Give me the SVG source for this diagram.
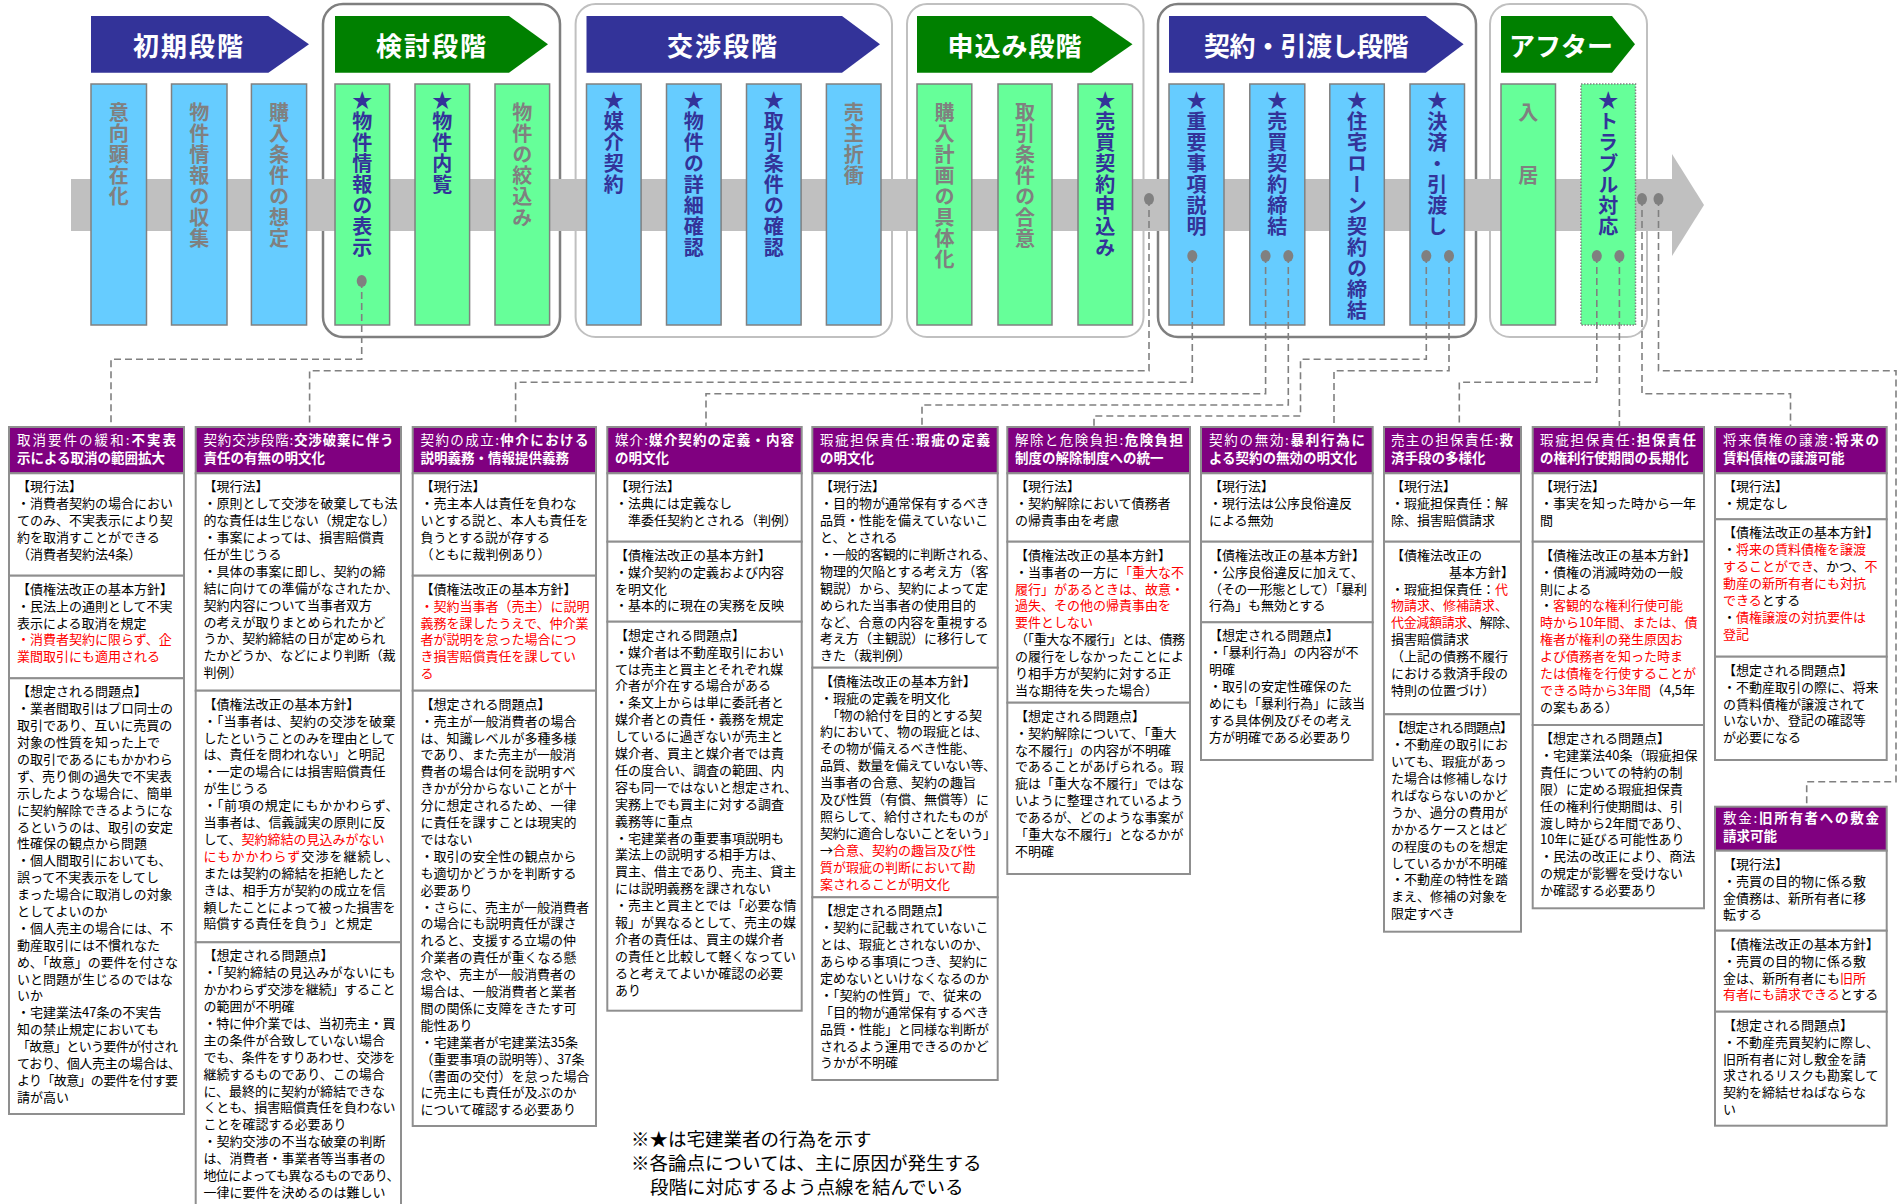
<svg xmlns="http://www.w3.org/2000/svg" width="1898" height="1204" viewBox="0 0 1898 1204">
<style>
.grpL{fill:none;stroke:#C0C0C0;stroke-width:2}
.grpD{fill:none;stroke:#7F7F7F;stroke-width:2.5}
.band{fill:#C0C0C0}
.arB{fill:#333399}
.arG{fill:#008000}
.ht{font-family:"Noto Sans CJK JP","Noto Sans CJK SC",sans-serif;font-size:26px;font-weight:bold;fill:#fff;text-anchor:middle}
.cB{fill:#66CCFF;stroke:#808080;stroke-width:1.5}
.cG{fill:#66FF99;stroke:#808080;stroke-width:1.5}
.cDot{stroke-dasharray:1.5 1.5}
.vt{font-family:"Noto Sans CJK JP","Noto Sans CJK SC",sans-serif;font-size:20px;font-weight:bold;writing-mode:vertical-rl;letter-spacing:1px}
.vg{fill:#808080}
.vs{fill:#333399}
.dot{fill:#808080}
.dash{fill:none;stroke:#808080;stroke-width:1.6;stroke-dasharray:7 4}
.hd{fill:#800080;stroke:#8F8F8F;stroke-width:2}
.sec{fill:#fff;stroke:#8F8F8F;stroke-width:2}
.t{font-family:"Noto Sans CJK JP","Noto Sans CJK SC",sans-serif;font-size:13px;fill:#000}
.hw{font-family:"Noto Sans CJK JP","Noto Sans CJK SC",sans-serif;font-size:13.5px;fill:#fff}
.b{font-weight:bold}
.r{fill:#FF0000}
.note{font-family:"Noto Sans CJK JP","Noto Sans CJK SC",sans-serif;font-size:18.5px;fill:#000}
</style>

<g id="stage-groups">
<rect class="grpD" x="323" y="4" width="237" height="333" rx="20"/>
<rect class="grpL" x="575.6" y="4" width="316.4" height="333" rx="20"/>
<rect class="grpL" x="907" y="4" width="236.5" height="333" rx="20"/>
<rect class="grpD" x="1158" y="4" width="318" height="333" rx="20"/>
<rect class="grpL" x="1490" y="4" width="157" height="333" rx="20"/>
</g>

<g id="timeline">
<rect class="band" x="71" y="179" width="1602" height="52"/>
<polygon class="band" points="1672,154 1704,205 1672,256"/>
</g>

<g id="stage-headers">
<g id="h-shoki"><polygon class="arB" points="91,16 268.4,16 309,44.3 268.4,72.7 91,72.7"/><text class="ht" x="189" y="56" letter-spacing="2">初期段階</text></g>
<g id="h-kento"><polygon class="arG" points="335,16 509,16 548,44.3 509,72.7 335,72.7"/><text class="ht" x="432" y="56" letter-spacing="2">検討段階</text></g>
<g id="h-kosho"><polygon class="arB" points="586.5,16 842,16 880,44.3 842,72.7 586.5,72.7"/><text class="ht" x="723" y="56" letter-spacing="2">交渉段階</text></g>
<g id="h-moshikomi"><polygon class="arG" points="917,16 1091.5,16 1132.5,44.3 1091.5,72.7 917,72.7"/><text class="ht" x="1015" y="56" letter-spacing="1">申込み段階</text></g>
<g id="h-keiyaku"><polygon class="arB" points="1169,16 1425.7,16 1463.6,44.3 1425.7,72.7 1169,72.7"/><text class="ht" x="1306" y="56" letter-spacing="-0.5">契約・引渡し段階</text></g>
<g id="h-after"><polygon class="arG" points="1501,16 1612,16 1635,44.3 1612,72.7 1501,72.7"/><text class="ht" x="1561" y="56" letter-spacing="0">アフター</text></g>
</g>

<g id="steps">
<g id="s1"><rect class="cB" x="91" y="84" width="55.5" height="241"/><text class="vt vg" x="118.8" y="102">意向顕在化</text></g>
<g id="s2"><rect class="cB" x="171.5" y="84" width="55.5" height="241"/><text class="vt vg" x="199.3" y="102">物件情報の収集</text></g>
<g id="s3"><rect class="cB" x="251.4" y="84" width="55.2" height="241"/><text class="vt vg" x="279" y="102">購入条件の想定</text></g>
<g id="s4"><rect class="cG" x="335" y="84" width="54.6" height="241"/><text class="vt vs" x="362.3" y="90">★物件情報の表示</text></g>
<g id="s5"><rect class="cG" x="415" y="84" width="54.6" height="241"/><text class="vt vs" x="442.3" y="90">★物件内覧</text></g>
<g id="s6"><rect class="cG" x="495" y="84" width="54.6" height="241"/><text class="vt vg" x="522.3" y="102">物件の絞込み</text></g>
<g id="s7"><rect class="cB" x="586.5" y="84" width="54.6" height="241"/><text class="vt vs" x="613.8" y="90">★媒介契約</text></g>
<g id="s8"><rect class="cB" x="666.5" y="84" width="54.6" height="241"/><text class="vt vs" x="693.8" y="90">★物件の詳細確認</text></g>
<g id="s9"><rect class="cB" x="746.5" y="84" width="54.6" height="241"/><text class="vt vs" x="773.8" y="90">★取引条件の確認</text></g>
<g id="s10"><rect class="cB" x="826.4" y="84" width="54.6" height="241"/><text class="vt vg" x="853.7" y="102">売主折衝</text></g>
<g id="s11"><rect class="cG" x="917" y="84" width="54.8" height="241"/><text class="vt vg" x="944.4" y="102">購入計画の具体化</text></g>
<g id="s12"><rect class="cG" x="998" y="84" width="54" height="241"/><text class="vt vg" x="1025" y="102">取引条件の合意</text></g>
<g id="s13"><rect class="cG" x="1078" y="84" width="54.5" height="241"/><text class="vt vs" x="1105.3" y="90">★売買契約申込み</text></g>
<g id="s14"><rect class="cB" x="1169" y="84" width="55" height="241"/><text class="vt vs" x="1196.5" y="90">★重要事項説明</text></g>
<g id="s15"><rect class="cB" x="1249.8" y="84" width="55" height="241"/><text class="vt vs" x="1277.3" y="90">★売買契約締結</text></g>
<g id="s16"><rect class="cB" x="1329.8" y="84" width="54.5" height="241"/><text class="vt vs" x="1357" y="90">★住宅ローン契約の締結</text></g>
<g id="s17"><rect class="cB" x="1410" y="84" width="54.5" height="241"/><text class="vt vs" x="1437.2" y="90">★決済・引渡し</text></g>
<g id="s18"><rect class="cG" x="1501" y="84" width="54.5" height="241"/><text class="vt vg" x="1528.2" y="102">入　　居</text></g>
<g id="s19"><rect class="cG cDot" x="1581" y="84" width="54.5" height="241"/><text class="vt vs" x="1608.2" y="90">★トラブル対応</text></g>
</g>

<g id="connectors">
<path class="dash" d="M361.7,281 V359.3 H111 V427"/>
<path class="dash" d="M1149,199 V370.7 H309.6 V427"/>
<path class="dash" d="M1192.3,256 V382.3 H515.6 V427"/>
<path class="dash" d="M1265.6,256 V393.7 H706 V427"/>
<path class="dash" d="M1288.3,256 V405 H922 V427"/>
<path class="dash" d="M1426.3,256 V359.3 H1300.5 V416 H1094 V427"/>
<path class="dash" d="M1449,256 V370.7 H1334 V427"/>
<path class="dash" d="M1596.8,256 V382.3 H1459.3 V427"/>
<path class="dash" d="M1619.4,256 V427"/>
<path class="dash" d="M1642,199 V393.7 H1790.5 V427"/>
<path class="dash" d="M1658.5,199 V370.7 H1896 V781.7 H1806.7 V806.7"/>
<g id="dots">
<ellipse class="dot" cx="361.7" cy="281" rx="5" ry="6"/>
<ellipse class="dot" cx="1149" cy="199" rx="5" ry="6"/>
<ellipse class="dot" cx="1192.3" cy="256" rx="5" ry="6"/>
<ellipse class="dot" cx="1265.6" cy="256" rx="5" ry="6"/>
<ellipse class="dot" cx="1288.3" cy="256" rx="5" ry="6"/>
<ellipse class="dot" cx="1426.3" cy="256" rx="5" ry="6"/>
<ellipse class="dot" cx="1449" cy="256" rx="5" ry="6"/>
<ellipse class="dot" cx="1596.8" cy="256" rx="5" ry="6"/>
<ellipse class="dot" cx="1619.4" cy="256" rx="5" ry="6"/>
<ellipse class="dot" cx="1642" cy="199" rx="5" ry="6"/>
<ellipse class="dot" cx="1658.5" cy="199" rx="5" ry="6"/>
</g>
</g>

<g id="box1">
<rect class="hd" x="9" y="427" width="175" height="46.3"/>
<rect class="sec" x="9" y="473.3" width="175" height="102.4"/>
<rect class="sec" x="9" y="575.7" width="175" height="102.6"/>
<rect class="sec" x="9" y="678.3" width="175" height="435.7"/>
<text class="hw"><tspan x="17" y="445" textLength="159" lengthAdjust="spacing">取消要件の緩和:<tspan class="b">不実表</tspan></tspan><tspan x="17" y="463" class="b">示による取消の範囲拡大</tspan></text>
<text class="t"><tspan x="17" y="491.3">【現行法】</tspan><tspan x="17" dy="16.9">・消費者契約の場合におい</tspan><tspan x="17" dy="16.9">てのみ、不実表示により契</tspan><tspan x="17" dy="16.9">約を取消すことができる</tspan><tspan x="17" dy="16.9">（消費者契約法4条）</tspan></text>
<text class="t"><tspan x="17" y="593.7">【債権法改正の基本方針】</tspan><tspan x="17" dy="16.9">・民法上の通則として不実</tspan><tspan x="17" dy="16.9">表示による取消を規定</tspan><tspan x="17" dy="16.9" class="r">・消費者契約に限らず、企</tspan><tspan x="17" dy="16.9" class="r">業間取引にも適用される</tspan></text>
<text class="t"><tspan x="17" y="696.3">【想定される問題点】</tspan><tspan x="17" dy="16.9">・業者間取引はプロ同士の</tspan><tspan x="17" dy="16.9">取引であり、互いに売買の</tspan><tspan x="17" dy="16.9">対象の性質を知った上で</tspan><tspan x="17" dy="16.9">の取引であるにもかかわら</tspan><tspan x="17" dy="16.9">ず、売り側の過失で不実表</tspan><tspan x="17" dy="16.9">示したような場合に、簡単</tspan><tspan x="17" dy="16.9">に契約解除できるようにな</tspan><tspan x="17" dy="16.9">るというのは、取引の安定</tspan><tspan x="17" dy="16.9">性確保の観点から問題</tspan><tspan x="17" dy="16.9">・個人間取引においても、</tspan><tspan x="17" dy="16.9">誤って不実表示をしてし</tspan><tspan x="17" dy="16.9">まった場合に取消しの対象</tspan><tspan x="17" dy="16.9">としてよいのか</tspan><tspan x="17" dy="16.9">・個人売主の場合には、不</tspan><tspan x="17" dy="16.9">動産取引には不慣れなた</tspan><tspan x="17" dy="16.9" textLength="161">め、「故意」の要件を付さな</tspan><tspan x="17" dy="16.9">いと問題が生じるのではな</tspan><tspan x="17" dy="16.9">いか</tspan><tspan x="17" dy="16.9">・宅建業法47条の不実告</tspan><tspan x="17" dy="16.9">知の禁止規定においても</tspan><tspan x="17" dy="16.9" textLength="161">「故意」という要件が付され</tspan><tspan x="17" dy="16.9" textLength="164">ており、個人売主の場合は、</tspan><tspan x="17" dy="16.9" textLength="161">より「故意」の要件を付す要</tspan><tspan x="17" dy="16.9">請が高い</tspan></text>
</g>

<g id="box2">
<rect class="hd" x="195.7" y="427" width="205.3" height="46.3"/>
<rect class="sec" x="195.7" y="473.3" width="205.3" height="217.4"/>
<rect class="sec" x="195.7" y="690.7" width="205.3" height="251.6"/>
<rect class="sec" x="195.7" y="942.3" width="205.3" height="280"/>
<text class="hw"><tspan x="203.5" y="445" textLength="190" lengthAdjust="spacing">契約交渉段階:<tspan class="b">交渉破棄に伴う</tspan></tspan><tspan x="203.5" y="463" class="b">責任の有無の明文化</tspan></text>
<text class="t"><tspan x="203.5" y="491.3">【現行法】</tspan><tspan x="203.5" dy="16.9" textLength="194">・原則として交渉を破棄しても法</tspan><tspan x="203.5" dy="16.9" textLength="192">的な責任は生じない（規定なし）</tspan><tspan x="203.5" dy="16.9">・事案によっては、損害賠償責</tspan><tspan x="203.5" dy="16.9">任が生じうる</tspan><tspan x="203.5" dy="16.9">・具体の事案に即し、契約の締</tspan><tspan x="203.5" dy="16.9" textLength="195">結に向けての準備がなされたか、</tspan><tspan x="203.5" dy="16.9">契約内容について当事者双方</tspan><tspan x="203.5" dy="16.9">の考えが取りまとめられたかど</tspan><tspan x="203.5" dy="16.9">うか、契約締結の日が定められ</tspan><tspan x="203.5" dy="16.9" textLength="192">たかどうか、などにより判断（裁</tspan><tspan x="203.5" dy="16.9">判例）</tspan></text>
<text class="t"><tspan x="203.5" y="708.7">【債権法改正の基本方針】</tspan><tspan x="203.5" dy="16.9" textLength="192">・「当事者は、契約の交渉を破棄</tspan><tspan x="203.5" dy="16.9" textLength="192">したということのみを理由として</tspan><tspan x="203.5" dy="16.9">は、責任を問われない」と明記</tspan><tspan x="203.5" dy="16.9">・一定の場合には損害賠償責任</tspan><tspan x="203.5" dy="16.9">が生じうる</tspan><tspan x="203.5" dy="16.9" textLength="195">・「前項の規定にもかかわらず、</tspan><tspan x="203.5" dy="16.9">当事者は、信義誠実の原則に反</tspan><tspan x="203.5" dy="16.9">して、<tspan class="r">契約締結の見込みがない</tspan></tspan><tspan x="203.5" dy="16.9" textLength="195"><tspan class="r">にもかかわらず</tspan>交渉を継続し、</tspan><tspan x="203.5" dy="16.9">または契約の締結を拒絶したと</tspan><tspan x="203.5" dy="16.9">きは、相手方が契約の成立を信</tspan><tspan x="203.5" dy="16.9" textLength="192">頼したことによって被った損害を</tspan><tspan x="203.5" dy="16.9">賠償する責任を負う」と規定</tspan></text>
<text class="t"><tspan x="203.5" y="960.3">【想定される問題点】</tspan><tspan x="203.5" dy="16.9" textLength="192">・「契約締結の見込みがないにも</tspan><tspan x="203.5" dy="16.9" textLength="192">かかわらず交渉を継続」すること</tspan><tspan x="203.5" dy="16.9">の範囲が不明確</tspan><tspan x="203.5" dy="16.9" textLength="192">・特に仲介業では、当初売主・買</tspan><tspan x="203.5" dy="16.9">主の条件が合致していない場合</tspan><tspan x="203.5" dy="16.9" textLength="192">でも、条件をすりあわせ、交渉を</tspan><tspan x="203.5" dy="16.9">継続するものであり、この場合</tspan><tspan x="203.5" dy="16.9">に、最終的に契約が締結できな</tspan><tspan x="203.5" dy="16.9" textLength="192">くとも、損害賠償責任を負わない</tspan><tspan x="203.5" dy="16.9">ことを確認する必要あり</tspan><tspan x="203.5" dy="16.9">・契約交渉の不当な破棄の判断</tspan><tspan x="203.5" dy="16.9">は、消費者・事業者等当事者の</tspan><tspan x="203.5" dy="16.9" textLength="196">地位によっても異なるものであり、</tspan><tspan x="203.5" dy="16.9">一律に要件を決めるのは難しい</tspan></text>
</g>

<g id="box3">
<rect class="hd" x="412.7" y="427" width="183.3" height="46.3"/>
<rect class="sec" x="412.7" y="473.3" width="183.3" height="102.4"/>
<rect class="sec" x="412.7" y="575.7" width="183.3" height="115"/>
<rect class="sec" x="412.7" y="690.7" width="183.3" height="435.3"/>
<text class="hw"><tspan x="420.5" y="445" textLength="168" lengthAdjust="spacing">契約の成立:<tspan class="b">仲介における</tspan></tspan><tspan x="420.5" y="463" class="b">説明義務・情報提供義務</tspan></text>
<text class="t"><tspan x="420.5" y="491.3">【現行法】</tspan><tspan x="420.5" dy="16.9">・売主本人は責任を負わな</tspan><tspan x="420.5" dy="16.9">いとする説と、本人も責任を</tspan><tspan x="420.5" dy="16.9">負うとする説が存する</tspan><tspan x="420.5" dy="16.9">（ともに裁判例あり）</tspan></text>
<text class="t"><tspan x="420.5" y="593.7">【債権法改正の基本方針】</tspan><tspan x="420.5" dy="16.9" class="r">・契約当事者（売主）に説明</tspan><tspan x="420.5" dy="16.9" class="r">義務を課したうえで、仲介業</tspan><tspan x="420.5" dy="16.9" class="r">者が説明を怠った場合につ</tspan><tspan x="420.5" dy="16.9" class="r">き損害賠償責任を課してい</tspan><tspan x="420.5" dy="16.9" class="r">る</tspan></text>
<text class="t"><tspan x="420.5" y="708.7">【想定される問題点】</tspan><tspan x="420.5" dy="16.9">・売主が一般消費者の場合</tspan><tspan x="420.5" dy="16.9">は、知識レベルが多種多様</tspan><tspan x="420.5" dy="16.9">であり、また売主が一般消</tspan><tspan x="420.5" dy="16.9">費者の場合は何を説明すべ</tspan><tspan x="420.5" dy="16.9">きかが分からないことが十</tspan><tspan x="420.5" dy="16.9">分に想定されるため、一律</tspan><tspan x="420.5" dy="16.9">に責任を課すことは現実的</tspan><tspan x="420.5" dy="16.9">ではない</tspan><tspan x="420.5" dy="16.9">・取引の安全性の観点から</tspan><tspan x="420.5" dy="16.9">も適切かどうかを判断する</tspan><tspan x="420.5" dy="16.9">必要あり</tspan><tspan x="420.5" dy="16.9">・さらに、売主が一般消費者</tspan><tspan x="420.5" dy="16.9">の場合にも説明責任が課さ</tspan><tspan x="420.5" dy="16.9">れると、支援する立場の仲</tspan><tspan x="420.5" dy="16.9">介業者の責任が重くなる懸</tspan><tspan x="420.5" dy="16.9">念や、売主が一般消費者の</tspan><tspan x="420.5" dy="16.9">場合は、一般消費者と業者</tspan><tspan x="420.5" dy="16.9">間の関係に支障をきたす可</tspan><tspan x="420.5" dy="16.9">能性あり</tspan><tspan x="420.5" dy="16.9">・宅建業者が宅建業法35条</tspan><tspan x="420.5" dy="16.9">（重要事項の説明等）、37条</tspan><tspan x="420.5" dy="16.9">（書面の交付）を怠った場合</tspan><tspan x="420.5" dy="16.9">に売主にも責任が及ぶのか</tspan><tspan x="420.5" dy="16.9">について確認する必要あり</tspan></text>
</g>

<g id="box4">
<rect class="hd" x="607.3" y="427" width="194.4" height="46.3"/>
<rect class="sec" x="607.3" y="473.3" width="194.4" height="68.4"/>
<rect class="sec" x="607.3" y="541.7" width="194.4" height="80"/>
<rect class="sec" x="607.3" y="621.7" width="194.4" height="389"/>
<text class="hw"><tspan x="615" y="445" textLength="179" lengthAdjust="spacing">媒介:<tspan class="b">媒介契約の定義・内容</tspan></tspan><tspan x="615" y="463" class="b">の明文化</tspan></text>
<text class="t"><tspan x="615" y="491.3">【現行法】</tspan><tspan x="615" dy="16.9">・法典には定義なし</tspan><tspan x="615" dy="16.9">　準委任契約とされる（判例）</tspan></text>
<text class="t"><tspan x="615" y="559.7">【債権法改正の基本方針】</tspan><tspan x="615" dy="16.9">・媒介契約の定義および内容</tspan><tspan x="615" dy="16.9">を明文化</tspan><tspan x="615" dy="16.9">・基本的に現在の実務を反映</tspan></text>
<text class="t"><tspan x="615" y="639.7">【想定される問題点】</tspan><tspan x="615" dy="16.9">・媒介者は不動産取引におい</tspan><tspan x="615" dy="16.9">ては売主と買主とそれぞれ媒</tspan><tspan x="615" dy="16.9">介者が介在する場合がある</tspan><tspan x="615" dy="16.9">・条文上からは単に委託者と</tspan><tspan x="615" dy="16.9">媒介者との責任・義務を規定</tspan><tspan x="615" dy="16.9">しているに過ぎないが売主と</tspan><tspan x="615" dy="16.9">媒介者、買主と媒介者では責</tspan><tspan x="615" dy="16.9">任の度合い、調査の範囲、内</tspan><tspan x="615" dy="16.9">容も同一ではないと想定され、</tspan><tspan x="615" dy="16.9">実務上でも買主に対する調査</tspan><tspan x="615" dy="16.9">義務等に重点</tspan><tspan x="615" dy="16.9">・宅建業者の重要事項説明も</tspan><tspan x="615" dy="16.9">業法上の説明する相手方は、</tspan><tspan x="615" dy="16.9">買主、借主であり、売主、貸主</tspan><tspan x="615" dy="16.9">には説明義務を課されない</tspan><tspan x="615" dy="16.9">・売主と買主とでは「必要な情</tspan><tspan x="615" dy="16.9">報」が異なるとして、売主の媒</tspan><tspan x="615" dy="16.9">介者の責任は、買主の媒介者</tspan><tspan x="615" dy="16.9">の責任と比較して軽くなってい</tspan><tspan x="615" dy="16.9">ると考えてよいか確認の必要</tspan><tspan x="615" dy="16.9">あり</tspan></text>
</g>

<g id="box5">
<rect class="hd" x="812.3" y="427" width="185.4" height="46.3"/>
<rect class="sec" x="812.3" y="473.3" width="185.4" height="194.4"/>
<rect class="sec" x="812.3" y="667.7" width="185.4" height="229.6"/>
<rect class="sec" x="812.3" y="897.3" width="185.4" height="182.7"/>
<text class="hw"><tspan x="820" y="445" textLength="170" lengthAdjust="spacing">瑕疵担保責任:<tspan class="b">瑕疵の定義</tspan></tspan><tspan x="820" y="463" class="b">の明文化</tspan></text>
<text class="t"><tspan x="820" y="491.3">【現行法】</tspan><tspan x="820" dy="16.9">・目的物が通常保有するべき</tspan><tspan x="820" dy="16.9">品質・性能を備えていないこ</tspan><tspan x="820" dy="16.9">と、とされる</tspan><tspan x="820" dy="16.9" textLength="176">・一般的客観的に判断される、</tspan><tspan x="820" dy="16.9">物理的欠陥とする考え方（客</tspan><tspan x="820" dy="16.9">観説）から、契約によって定</tspan><tspan x="820" dy="16.9">められた当事者の使用目的</tspan><tspan x="820" dy="16.9">など、合意の内容を重視する</tspan><tspan x="820" dy="16.9">考え方（主観説）に移行して</tspan><tspan x="820" dy="16.9">きた（裁判例）</tspan></text>
<text class="t"><tspan x="820" y="685.7">【債権法改正の基本方針】</tspan><tspan x="820" dy="16.9">・瑕疵の定義を明文化</tspan><tspan x="820" dy="16.9">　「物の給付を目的とする契</tspan><tspan x="820" dy="16.9">約において、物の瑕疵とは、</tspan><tspan x="820" dy="16.9">その物が備えるべき性能、</tspan><tspan x="820" dy="16.9" textLength="176">品質、数量を備えていない等、</tspan><tspan x="820" dy="16.9">当事者の合意、契約の趣旨</tspan><tspan x="820" dy="16.9">及び性質（有償、無償等）に</tspan><tspan x="820" dy="16.9">照らして、給付されたものが</tspan><tspan x="820" dy="16.9" textLength="176">契約に適合しないことをいう」</tspan><tspan x="820" dy="16.9">→<tspan class="r">合意、契約の趣旨及び性</tspan></tspan><tspan x="820" dy="16.9" class="r">質が瑕疵の判断において勘</tspan><tspan x="820" dy="16.9" class="r">案されることが明文化</tspan></text>
<text class="t"><tspan x="820" y="915.3">【想定される問題点】</tspan><tspan x="820" dy="16.9">・契約に記載されていないこ</tspan><tspan x="820" dy="16.9">とは、瑕疵とされないのか、</tspan><tspan x="820" dy="16.9">あらゆる事項につき、契約に</tspan><tspan x="820" dy="16.9">定めないといけなくなるのか</tspan><tspan x="820" dy="16.9">・「契約の性質」で、従来の</tspan><tspan x="820" dy="16.9">「目的物が通常保有するべき</tspan><tspan x="820" dy="16.9">品質・性能」と同様な判断が</tspan><tspan x="820" dy="16.9">されるよう運用できるのかど</tspan><tspan x="820" dy="16.9">うかが不明確</tspan></text>
</g>

<g id="box6">
<rect class="hd" x="1007.3" y="427" width="182.7" height="46.3"/>
<rect class="sec" x="1007.3" y="473.3" width="182.7" height="68.4"/>
<rect class="sec" x="1007.3" y="541.7" width="182.7" height="161"/>
<rect class="sec" x="1007.3" y="702.7" width="182.7" height="171.3"/>
<text class="hw"><tspan x="1015" y="445" textLength="168" lengthAdjust="spacing">解除と危険負担:<tspan class="b">危険負担</tspan></tspan><tspan x="1015" y="463" class="b">制度の解除制度への統一</tspan></text>
<text class="t"><tspan x="1015" y="491.3">【現行法】</tspan><tspan x="1015" dy="16.9">・契約解除において債務者</tspan><tspan x="1015" dy="16.9">の帰責事由を考慮</tspan></text>
<text class="t"><tspan x="1015" y="559.7">【債権法改正の基本方針】</tspan><tspan x="1015" dy="16.9">・当事者の一方に<tspan class="r">「重大な不</tspan></tspan><tspan x="1015" dy="16.9" class="r">履行」があるときは、故意・</tspan><tspan x="1015" dy="16.9" class="r">過失、その他の帰責事由を</tspan><tspan x="1015" dy="16.9" class="r">要件としない</tspan><tspan x="1015" dy="16.9" textLength="170">（「重大な不履行」とは、債務</tspan><tspan x="1015" dy="16.9">の履行をしなかったことによ</tspan><tspan x="1015" dy="16.9">り相手方が契約に対する正</tspan><tspan x="1015" dy="16.9">当な期待を失った場合）</tspan></text>
<text class="t"><tspan x="1015" y="720.7">【想定される問題点】</tspan><tspan x="1015" dy="16.9">・契約解除について、「重大</tspan><tspan x="1015" dy="16.9">な不履行」の内容が不明確</tspan><tspan x="1015" dy="16.9">であることがあげられる。瑕</tspan><tspan x="1015" dy="16.9">疵は「重大な不履行」ではな</tspan><tspan x="1015" dy="16.9">いように整理されているよう</tspan><tspan x="1015" dy="16.9">であるが、どのような事案が</tspan><tspan x="1015" dy="16.9">「重大な不履行」となるかが</tspan><tspan x="1015" dy="16.9">不明確</tspan></text>
</g>

<g id="box7">
<rect class="hd" x="1201" y="427" width="171.7" height="46.3"/>
<rect class="sec" x="1201" y="473.3" width="171.7" height="68.4"/>
<rect class="sec" x="1201" y="541.7" width="171.7" height="80.6"/>
<rect class="sec" x="1201" y="622.3" width="171.7" height="137.7"/>
<text class="hw"><tspan x="1209" y="445" textLength="156" lengthAdjust="spacing">契約の無効:<tspan class="b">暴利行為に</tspan></tspan><tspan x="1209" y="463" class="b">よる契約の無効の明文化</tspan></text>
<text class="t"><tspan x="1209" y="491.3">【現行法】</tspan><tspan x="1209" dy="16.9">・現行法は公序良俗違反</tspan><tspan x="1209" dy="16.9">による無効</tspan></text>
<text class="t"><tspan x="1209" y="559.7">【債権法改正の基本方針】</tspan><tspan x="1209" dy="16.9">・公序良俗違反に加えて、</tspan><tspan x="1209" dy="16.9" textLength="158">（その一形態として）「暴利</tspan><tspan x="1209" dy="16.9">行為」も無効とする</tspan></text>
<text class="t"><tspan x="1209" y="640.3">【想定される問題点】</tspan><tspan x="1209" dy="16.9">・「暴利行為」の内容が不</tspan><tspan x="1209" dy="16.9">明確</tspan><tspan x="1209" dy="16.9">・取引の安定性確保のた</tspan><tspan x="1209" dy="16.9">めにも「暴利行為」に該当</tspan><tspan x="1209" dy="16.9">する具体例及びその考え</tspan><tspan x="1209" dy="16.9">方が明確である必要あり</tspan></text>
</g>

<g id="box8">
<rect class="hd" x="1384" y="427" width="137" height="46.3"/>
<rect class="sec" x="1384" y="473.3" width="137" height="68.4"/>
<rect class="sec" x="1384" y="541.7" width="137" height="172.6"/>
<rect class="sec" x="1384" y="714.3" width="137" height="217.4"/>
<text class="hw"><tspan x="1391" y="445" textLength="122" lengthAdjust="spacing">売主の担保責任:<tspan class="b">救</tspan></tspan><tspan x="1391" y="463" class="b">済手段の多様化</tspan></text>
<text class="t"><tspan x="1391" y="491.3">【現行法】</tspan><tspan x="1391" dy="16.9">・瑕疵担保責任：解</tspan><tspan x="1391" dy="16.9">除、損害賠償請求</tspan></text>
<text class="t"><tspan x="1391" y="559.7">【債権法改正の</tspan><tspan x="1514" dy="16.9" text-anchor="end">基本方針】</tspan><tspan x="1391" dy="16.9">・瑕疵担保責任：<tspan class="r">代</tspan></tspan><tspan x="1391" dy="16.9" class="r">物請求、修補請求、</tspan><tspan x="1391" dy="16.9" textLength="127"><tspan class="r">代金減額請求</tspan>、解除、</tspan><tspan x="1391" dy="16.9">損害賠償請求</tspan><tspan x="1391" dy="16.9">（上記の債務不履行</tspan><tspan x="1391" dy="16.9">における救済手段の</tspan><tspan x="1391" dy="16.9">特則の位置づけ）</tspan></text>
<text class="t"><tspan x="1391" y="732.3" textLength="122">【想定される問題点】</tspan><tspan x="1391" dy="16.9">・不動産の取引にお</tspan><tspan x="1391" dy="16.9">いても、瑕疵があっ</tspan><tspan x="1391" dy="16.9">た場合は修補しなけ</tspan><tspan x="1391" dy="16.9">ればならないのかど</tspan><tspan x="1391" dy="16.9">うか、過分の費用が</tspan><tspan x="1391" dy="16.9">かかるケースとはど</tspan><tspan x="1391" dy="16.9">の程度のものを想定</tspan><tspan x="1391" dy="16.9">しているかが不明確</tspan><tspan x="1391" dy="16.9">・不動産の特性を踏</tspan><tspan x="1391" dy="16.9">まえ、修補の対象を</tspan><tspan x="1391" dy="16.9">限定すべき</tspan></text>
</g>

<g id="box9">
<rect class="hd" x="1532.7" y="427" width="171.3" height="46.3"/>
<rect class="sec" x="1532.7" y="473.3" width="171.3" height="68.4"/>
<rect class="sec" x="1532.7" y="541.7" width="171.3" height="183.3"/>
<rect class="sec" x="1532.7" y="725" width="171.3" height="183.3"/>
<text class="hw"><tspan x="1540" y="445" textLength="156" lengthAdjust="spacing">瑕疵担保責任:<tspan class="b">担保責任</tspan></tspan><tspan x="1540" y="463" class="b">の権利行使期間の長期化</tspan></text>
<text class="t"><tspan x="1540" y="491.3">【現行法】</tspan><tspan x="1540" dy="16.9">・事実を知った時から一年</tspan><tspan x="1540" dy="16.9">間</tspan></text>
<text class="t"><tspan x="1540" y="559.7">【債権法改正の基本方針】</tspan><tspan x="1540" dy="16.9">・債権の消滅時効の一般</tspan><tspan x="1540" dy="16.9">則による</tspan><tspan x="1540" dy="16.9">・<tspan class="r">客観的な権利行使可能</tspan></tspan><tspan x="1540" dy="16.9" class="r">時から10年間、または、債</tspan><tspan x="1540" dy="16.9" class="r">権者が権利の発生原因お</tspan><tspan x="1540" dy="16.9" class="r">よび債務者を知った時ま</tspan><tspan x="1540" dy="16.9" class="r">たは債権を行使することが</tspan><tspan x="1540" dy="16.9"><tspan class="r">できる時から3年間</tspan>（4,5年</tspan><tspan x="1540" dy="16.9">の案もある）</tspan></text>
<text class="t"><tspan x="1540" y="743">【想定される問題点】</tspan><tspan x="1540" dy="16.9">・宅建業法40条（瑕疵担保</tspan><tspan x="1540" dy="16.9">責任についての特約の制</tspan><tspan x="1540" dy="16.9">限）に定める瑕疵担保責</tspan><tspan x="1540" dy="16.9">任の権利行使期間は、引</tspan><tspan x="1540" dy="16.9">渡し時から2年間であり、</tspan><tspan x="1540" dy="16.9">10年に延びる可能性あり</tspan><tspan x="1540" dy="16.9">・民法の改正により、商法</tspan><tspan x="1540" dy="16.9">の規定が影響を受けない</tspan><tspan x="1540" dy="16.9">か確認する必要あり</tspan></text>
</g>

<g id="box10">
<rect class="hd" x="1715" y="427" width="171.7" height="46.3"/>
<rect class="sec" x="1715" y="473.3" width="171.7" height="46"/>
<rect class="sec" x="1715" y="519.3" width="171.7" height="137.4"/>
<rect class="sec" x="1715" y="656.7" width="171.7" height="103.3"/>
<text class="hw"><tspan x="1723" y="445" textLength="156" lengthAdjust="spacing">将来債権の譲渡:<tspan class="b">将来の</tspan></tspan><tspan x="1723" y="463" class="b">賃料債権の譲渡可能</tspan></text>
<text class="t"><tspan x="1723" y="491.3">【現行法】</tspan><tspan x="1723" dy="16.9">・規定なし</tspan></text>
<text class="t"><tspan x="1723" y="537.3">【債権法改正の基本方針】</tspan><tspan x="1723" dy="16.9">・<tspan class="r">将来の賃料債権を譲渡</tspan></tspan><tspan x="1723" dy="16.9"><tspan class="r">することができ</tspan>、かつ、<tspan class="r">不</tspan></tspan><tspan x="1723" dy="16.9" class="r">動産の新所有者にも対抗</tspan><tspan x="1723" dy="16.9"><tspan class="r">できる</tspan>とする</tspan><tspan x="1723" dy="16.9">・<tspan class="r">債権譲渡の対抗要件は</tspan></tspan><tspan x="1723" dy="16.9" class="r">登記</tspan></text>
<text class="t"><tspan x="1723" y="674.7">【想定される問題点】</tspan><tspan x="1723" dy="16.9">・不動産取引の際に、将来</tspan><tspan x="1723" dy="16.9">の賃料債権が譲渡されて</tspan><tspan x="1723" dy="16.9">いないか、登記の確認等</tspan><tspan x="1723" dy="16.9">が必要になる</tspan></text>
</g>

<g id="box11">
<rect class="hd" x="1715" y="806.7" width="171.7" height="44"/>
<rect class="sec" x="1715" y="850.7" width="171.7" height="80"/>
<rect class="sec" x="1715" y="930.7" width="171.7" height="81"/>
<rect class="sec" x="1715" y="1011.7" width="171.7" height="114"/>
<text class="hw"><tspan x="1723" y="822.5" textLength="156" lengthAdjust="spacing">敷金:<tspan class="b">旧所有者への敷金</tspan></tspan><tspan x="1723" y="840.5" class="b">請求可能</tspan></text>
<text class="t"><tspan x="1723" y="868.7">【現行法】</tspan><tspan x="1723" dy="16.9">・売買の目的物に係る敷</tspan><tspan x="1723" dy="16.9">金債務は、新所有者に移</tspan><tspan x="1723" dy="16.9">転する</tspan></text>
<text class="t"><tspan x="1723" y="948.7">【債権法改正の基本方針】</tspan><tspan x="1723" dy="16.9">・売買の目的物に係る敷</tspan><tspan x="1723" dy="16.9">金は、新所有者にも<tspan class="r">旧所</tspan></tspan><tspan x="1723" dy="16.9"><tspan class="r">有者にも請求できる</tspan>とする</tspan></text>
<text class="t"><tspan x="1723" y="1029.7">【想定される問題点】</tspan><tspan x="1723" dy="16.9">・不動産売買契約に際し、</tspan><tspan x="1723" dy="16.9">旧所有者に対し敷金を請</tspan><tspan x="1723" dy="16.9">求されるリスクも勘案して</tspan><tspan x="1723" dy="16.9">契約を締結せねばならな</tspan><tspan x="1723" dy="16.9">い</tspan></text>
</g>

<g id="footnote">
<text class="note"><tspan x="631" y="1146">※★は宅建業者の行為を示す</tspan><tspan x="631" y="1170.2">※各論点については、主に原因が発生する</tspan><tspan x="650" y="1194.4">段階に対応するよう点線を結んでいる</tspan></text>
</g>
</svg>
